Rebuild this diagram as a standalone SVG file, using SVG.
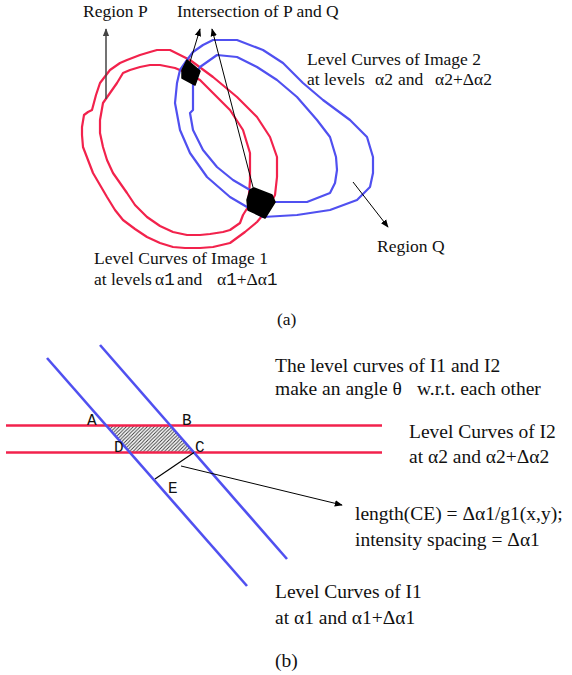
<svg xmlns="http://www.w3.org/2000/svg" width="572" height="675" viewBox="0 0 572 675">
<style>
.red{fill:none;stroke:#f2224c;stroke-width:2.2;stroke-linejoin:round}
.blue{fill:none;stroke:#5050f0;stroke-width:2.2;stroke-linejoin:round}
.redb{fill:none;stroke:#f2224c;stroke-width:2.6}
.blueb{fill:none;stroke:#5050f0;stroke-width:2.6}
.blob{fill:#000;stroke:#000;stroke-width:1.5;stroke-linejoin:round}
.arr{fill:none;stroke:#000;stroke-width:1;marker-end:url(#ah)}
.ta{font-family:"Liberation Serif","Times New Roman",serif;font-size:17.5px;fill:#111}
.tb{font-family:"Liberation Serif","Times New Roman",serif;font-size:19.5px;fill:#111}
.lbl{font-family:"Liberation Mono","Courier New",monospace;font-size:16px;fill:#111}
.mono{font-family:"Liberation Mono","Courier New",monospace}
</style>
<defs>
<marker id="ah" viewBox="0 0 10 10" refX="9" refY="5" markerWidth="8" markerHeight="8" markerUnits="userSpaceOnUse" orient="auto">
<path d="M0,1 L10,5 L0,9 z" fill="#000"/>
</marker>
<marker id="ahg" viewBox="0 0 10 10" refX="9" refY="5" markerWidth="8" markerHeight="8" markerUnits="userSpaceOnUse" orient="auto">
<path d="M0,1 L10,5 L0,9 z" fill="#444"/>
</marker>
<pattern id="hatch" patternUnits="userSpaceOnUse" width="3.5" height="3.5">
<rect width="3.5" height="3.5" fill="#fff"/>
<path d="M-1,1 L1,-1 M0,3.5 L3.5,0 M2.5,4.5 L4.5,2.5" stroke="#333" stroke-width="0.9"/>
</pattern>
</defs>

<!-- Part (a) -->
<g id="curves1">
<polygon class="red" points="157,50 170,50 190,60 213,77 237,97 257,117 270,137 277,157 277,177 275,195 267,210 257,222 245,232 230,243 213,247 200,248 185,248 173,247 160,243 147,237 135,229 123,220 115,210 107,197 100,185 93,173 88,160 83,147 82,135 82,127 84,115 88,112 92,110 96,95 100,83 110,70 120,63 127,60 140,55 150,52"/>
<polygon class="red" points="150,65 160,65 175,68 187,73 200,80 213,93 230,110 243,130 250,153 250,180 248,207 243,215 240,223 230,230 223,232 210,234 200,235 187,235 173,232 160,226 147,217 135,205 127,193 120,183 113,173 107,160 103,147 100,133 100,120 103,103 110,93 117,83 123,73 130,70 140,67"/>
</g>
<g id="curves2">
<polygon class="blue" points="213,40 237,40 263,50 283,63 303,83 323,100 350,120 367,137 373,157 373,173 370,187 357,200 330,210 297,215 263,217 247,207 230,197 207,177 190,153 180,130 175,103 177,83 180,70 187,60 193,52 203,45"/>
<polygon class="blue" points="200,67 217,55 237,57 257,67 277,80 297,97 317,120 330,137 336,157 337,170 335,183 330,193 307,202 273,202 250,190 233,180 217,167 203,150 193,130 190,113 193,110 193,97 193,80"/>
</g>
<g id="blobs">
<polygon class="blob" points="187,60 200,71 195,85 182,78 182,70"/>
<polygon class="blob" points="250,190 254,188 272,195 275,202 265,218 248,210 247,200"/>
</g>
<g id="connectors-a">
<line x1="106" y1="99" x2="106" y2="29" stroke="#444" stroke-width="1.5" marker-end="url(#ahg)"/>
<line class="arr" x1="190" y1="62" x2="200" y2="29"/>
<line class="arr" x1="254" y1="191" x2="212" y2="29"/>
<line class="arr" x1="353" y1="182" x2="388" y2="227"/>
</g>
<g id="labels-a">
<text class="ta" x="83" y="17">Region P</text>
<text class="ta" x="177" y="17">Intersection of P and Q</text>
<text class="ta" x="307" y="65">Level Curves of Image 2</text>
<text class="ta" y="85"><tspan x="307">at levels</tspan><tspan x="375">α2</tspan><tspan x="398">and</tspan><tspan x="435">α2+Δα2</tspan></text>
<text class="ta" x="377" y="252">Region Q</text>
<text class="ta" x="94" y="264">Level Curves of Image 1</text>
<text class="ta" y="285"><tspan x="94">at levels</tspan><tspan x="155">α</tspan><tspan class="mono">1</tspan><tspan x="177">and</tspan><tspan x="217">α</tspan><tspan class="mono">1</tspan><tspan>+Δα</tspan><tspan class="mono">1</tspan></text>
<text class="ta" x="277" y="325">(a)</text>
</g>

<!-- Part (b) -->
<g id="region-abcd">
<polygon points="106.5,425.5 170.5,425.5 194,452.5 130,452.5" fill="url(#hatch)"/>
</g>
<g id="level-curves-I2">
<line class="redb" x1="6" y1="425.5" x2="382" y2="425.5"/>
<line class="redb" x1="6" y1="452.5" x2="382" y2="452.5"/>
</g>
<g id="level-curves-I1">
<line class="blueb" x1="47" y1="358" x2="247" y2="586"/>
<line class="blueb" x1="100" y1="345" x2="287" y2="559"/>
</g>
<g id="connectors-b">
<line x1="194" y1="452.5" x2="155" y2="479" stroke="#000" stroke-width="1.2"/>
<line class="arr" x1="181" y1="466" x2="342" y2="505"/>
</g>
<g id="points">
<text class="lbl" x="87" y="425">A</text>
<text class="lbl" x="182" y="425">B</text>
<text class="lbl" x="114" y="452">D</text>
<text class="lbl" x="195" y="452">C</text>
<text class="lbl" x="168" y="493">E</text>
</g>
<g id="labels-b">
<text class="tb" x="275" y="372">The level curves of I1 and I2</text>
<text class="tb" y="395"><tspan x="275">make an angle θ</tspan><tspan x="417">w.r.t. each other</tspan></text>
<text class="tb" x="409" y="438">Level Curves of I2</text>
<text class="tb" x="409" y="463">at α2 and α2+Δα2</text>
<text class="tb" x="355" y="520">length(CE) = Δα1/g1(x,y);</text>
<text class="tb" x="355" y="546">intensity spacing = Δα1</text>
<text class="tb" x="275" y="598">Level Curves of I1</text>
<text class="tb" x="275" y="624">at α1 and α1+Δα1</text>
<text class="tb" x="275" y="667">(b)</text>
</g>
</svg>
